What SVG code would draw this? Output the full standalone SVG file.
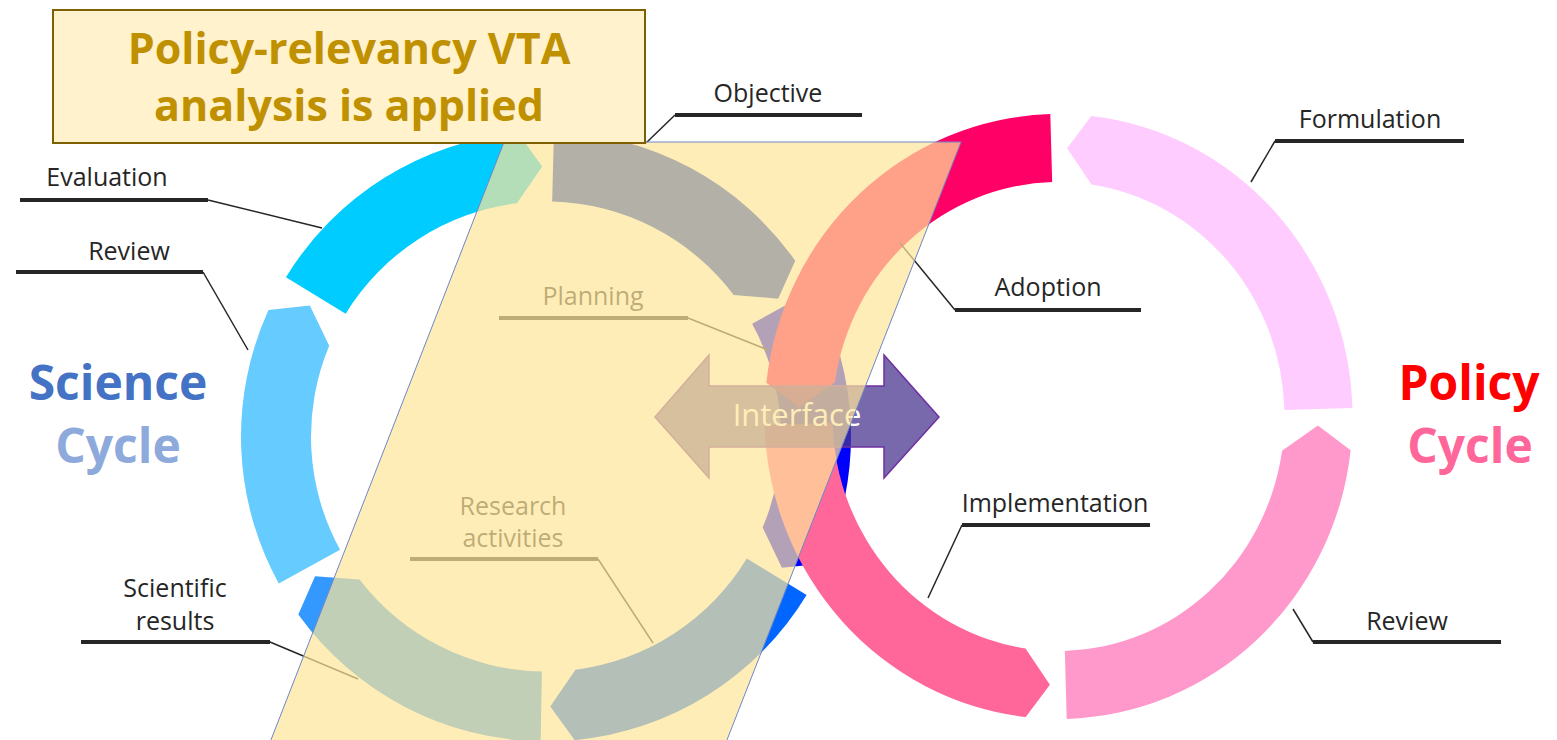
<svg xmlns="http://www.w3.org/2000/svg" width="1557" height="740" viewBox="0 0 1557 740">
<style>
  .lbl{font-family:"Open Sans","Noto Sans","DejaVu Sans",sans-serif;font-size:25px;fill:#262626;text-anchor:middle}
  .ul{stroke:#262626;stroke-width:4;fill:none}
  .ld{stroke:#262626;stroke-width:1.5;fill:none}
  .big{font-family:"Open Sans","Noto Sans","DejaVu Sans",sans-serif;font-size:48px;font-weight:bold;text-anchor:middle}
  .ttl{font-family:"Open Sans","Noto Sans","DejaVu Sans",sans-serif;font-size:43px;font-weight:bold;fill:#BF9000;text-anchor:middle}
</style>
<rect width="1557" height="740" fill="#FFFFFF"/>

<g id="science-cycle">
  <g id="sci-objective"><path fill="#0033CC" d="M553.98,131.60 A305,305 0 0 1 795.23,260.69 L778.16,298.63 L733.68,295.07 A235,235 0 0 0 552.15,201.58 Z"/></g>
  <g id="sci-planning"><path fill="#0000FF" d="M813.53,290.03 A305,305 0 0 1 823.32,563.47 L781.93,567.80 L762.64,527.57 A235,235 0 0 0 752.13,323.65 Z"/></g>
  <g id="sci-research"><path fill="#0066FF" d="M806.60,594.95 A305,305 0 0 1 574.70,740.15 L550.24,706.47 L575.45,669.65 A235,235 0 0 0 746.79,558.59 Z"/></g>
  <g id="sci-results"><path fill="#3399FF" d="M540.68,741.45 A305,305 0 0 1 298.32,614.48 L315.05,576.37 L359.56,579.56 A235,235 0 0 0 541.90,671.46 Z"/></g>
  <g id="sci-review"><path fill="#66CCFF" d="M278.73,583.43 A305,305 0 0 1 268.46,310.02 L309.85,305.60 L329.21,345.81 A235,235 0 0 0 340.07,549.71 Z"/></g>
  <g id="sci-evaluation"><path fill="#00CCFF" d="M285.94,277.14 A305,305 0 0 1 517.83,132.81 L542.23,166.53 L516.95,203.30 A235,235 0 0 0 345.63,313.71 Z"/></g>
</g>

<g id="policy-cycle">
  <g id="pol-formulation"><path fill="#FFCCFF" d="M1352.39,408.05 A294,302.5 0 0 0 1091.27,115.88 L1067.10,148.15 L1091.51,184.52 A226,234.5 0 0 1 1284.41,409.95 Z"/></g>
  <g id="pol-adoption"><path fill="#FF0066" d="M1050.29,114.12 A294,302.5 0 0 0 766.33,382.78 L799.14,407.60 L834.92,382.24 A226,234.5 0 0 1 1052.19,182.09 Z"/></g>
  <g id="pol-implementation"><path fill="#FF6699" d="M764.61,424.95 A294,302.5 0 0 0 1025.73,717.12 L1049.90,684.85 L1025.49,648.48 A226,234.5 0 0 1 832.59,423.05 Z"/></g>
  <g id="pol-review"><path fill="#FF99CC" d="M1066.71,718.88 A294,302.5 0 0 0 1350.67,450.22 L1317.86,425.40 L1282.08,450.76 A226,234.5 0 0 1 1064.81,650.91 Z"/></g>
</g>

<g id="connectors">
  <path class="ld" d="M675,115 L646,143"/>
  <path class="ld" d="M208,200 L322,228"/>
  <path class="ld" d="M203,272 L248,350"/>
  <path class="ld" d="M270,642 L358,679"/>
  <path class="ld" d="M688,318 L768,350"/>
  <path class="ld" d="M598,559 L653,643"/>
  <path class="ld" d="M955,310 L900,243"/>
  <path class="ld" d="M1275,141 L1251,182"/>
  <path class="ld" d="M962,525 L928,598"/>
  <path class="ld" d="M1313,642 L1293,609"/>
</g>

<g id="labels">
  <g id="lbl-objective"><text class="lbl" x="768" y="102">Objective</text><path class="ul" d="M675,115 H862"/></g>
  <g id="lbl-evaluation"><text class="lbl" x="107" y="186">Evaluation</text><path class="ul" d="M20,200 H208"/></g>
  <g id="lbl-review-sci"><text class="lbl" x="129" y="260">Review</text><path class="ul" d="M16,272 H203"/></g>
  <g id="lbl-results"><text class="lbl" x="175" y="597">Scientific</text><text class="lbl" x="175" y="630">results</text><path class="ul" d="M81,642 H270"/></g>
  <g id="lbl-planning"><text class="lbl" x="593" y="305">Planning</text><path class="ul" d="M499,318 H688"/></g>
  <g id="lbl-research"><text class="lbl" x="513" y="515">Research</text><text class="lbl" x="513" y="547">activities</text><path class="ul" d="M410,559 H598"/></g>
  <g id="lbl-adoption"><text class="lbl" x="1048" y="296">Adoption</text><path class="ul" d="M955,310 H1141"/></g>
  <g id="lbl-formulation"><text class="lbl" x="1370" y="128">Formulation</text><path class="ul" d="M1275,141 H1464"/></g>
  <g id="lbl-implementation"><text class="lbl" x="1055" y="512">Implementation</text><path class="ul" d="M962,525 H1150"/></g>
  <g id="lbl-review-pol"><text class="lbl" x="1407" y="630">Review</text><path class="ul" d="M1313,642 H1501"/></g>
</g>

<g id="interface">
  <path fill="#4B3590" fill-opacity="0.75" stroke="#7030A0" stroke-width="1.5" d="M655,417 L709,355 L709,386 L884,386 L884,355 L939,417 L884,478 L884,447 L709,447 L709,478 Z"/>
  <text x="797" y="426" font-family="'Open Sans','Noto Sans','DejaVu Sans',sans-serif" font-size="31" fill="#FFFFFF" text-anchor="middle">Interface</text>
</g>

<g id="vta-overlay">
  <path fill="#FFE699" fill-opacity="0.7" stroke="#6E86C8" stroke-width="1" d="M504,142 L961,142 L725,745 L269,745 Z"/>
</g>

<g id="title">
  <rect x="53" y="10" width="592" height="133" fill="#FFF2CC" stroke="#7F6000" stroke-width="2"/>
  <text class="ttl" x="349" y="64">Policy-relevancy VTA</text>
  <text class="ttl" x="349" y="121">analysis is applied</text>
</g>

<g id="science-title">
  <text class="big" x="118" y="400" fill="#4472C4">Science</text>
  <text class="big" x="118" y="463" fill="#8EA9DB">Cycle</text>
</g>
<g id="policy-title">
  <text class="big" x="1469" y="400" fill="#FF0000">Policy</text>
  <text class="big" x="1470" y="463" fill="#FF6699">Cycle</text>
</g>
</svg>
